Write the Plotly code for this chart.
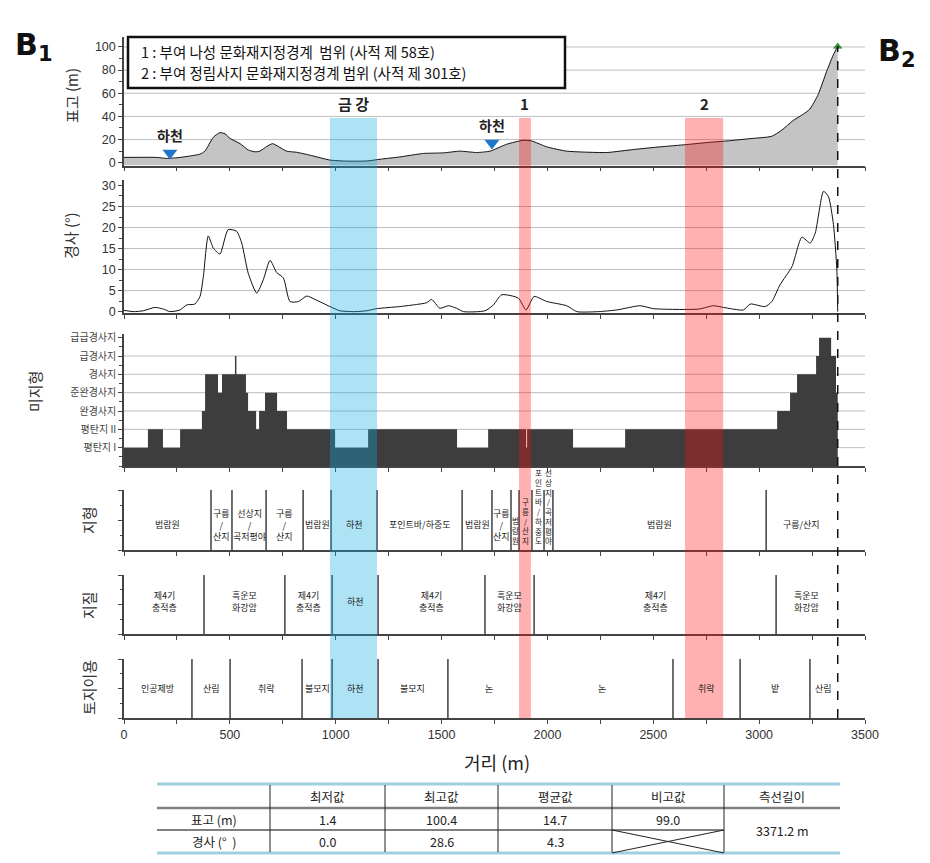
import plotly.graph_objects as go

W, H = 930, 863


def px(x):
    return x / W


def py(y):
    return 1 - y / H


KFONT = "Noto Sans CJK KR, Liberation Sans, sans-serif"
NFONT = "Liberation Sans, Arial, sans-serif"

# ---------------- data ----------------
dist_elev = [0, 154, 202, 265, 359, 382, 422, 453, 477, 501, 548, 587, 619, 642, 674, 702, 729, 768,
             816, 879, 973, 1052, 1146, 1209, 1303, 1414, 1508, 1587, 1666, 1729, 1808, 1886, 1926,
             1997, 2091, 2280, 2406, 2532, 2658, 2768, 2847, 2957, 3059, 3106, 3161, 3209, 3240,
             3279, 3319, 3350, 3371.2]
elevation = [4.6, 4.6, 3.7, 4.6, 7.4, 10, 22, 26, 25, 21, 16.5, 11, 9.4, 10, 14, 16.5, 14, 10,
             9, 6.5, 2.3, 1.4, 1.5, 3, 5, 8, 8.5, 10, 8.8, 10, 16, 19.4, 18.8,
             13.7, 10, 8.8, 11.4, 13.7, 15.7, 17.7, 18.8, 20.8, 22.8, 28, 36.5, 42, 46.4,
             59, 79, 93, 100.4]

dist_slope = [0, 44, 91, 146, 186, 217, 265, 296, 335, 359, 375, 398, 422, 453, 492, 532, 556, 587,
              627, 658, 690, 721, 753, 784, 824, 863, 902, 973, 1020, 1091, 1146, 1193, 1303, 1382,
              1429, 1453, 1492, 1532, 1571, 1603, 1705, 1745, 1784, 1863, 1899, 1937, 1997, 2091,
              2139, 2241, 2328, 2438, 2501, 2714, 2784, 2831, 2926, 2958, 3029, 3060, 3099, 3155,
              3202, 3241, 3265, 3304, 3327, 3351, 3367, 3371.2]
slope = [0.3, 0, 0.2, 1.0, 0.6, 0, 0.4, 1.6, 1.8, 3.6, 8.4, 18, 15.1, 13.7, 19.5, 19.1, 16.3, 9.1,
         4.4, 7.6, 12.2, 9.3, 8, 2.4, 2.4, 3.7, 2.9, 1.2, 0.2, 0, 0.2, 0.7, 1.2, 1.7,
         2.1, 2.9, 0.8, 1.4, 0.8, 0, 0.2, 1.6, 4.0, 3.2, 0.4, 3.6, 2.4, 1.4,
         0, 0, 0.4, 1.4, 0.7, 0.6, 1.4, 1.0, 0.4, 1.8, 1.2, 2.4, 6.4, 10.7,
         17.7, 16.3, 18.7, 28.6, 27.4, 20.7, 9.9, 0]

micro_names = ["평탄지 I", "평탄지 II", "완경사지", "준완경사지", "경사지", "급경사지", "급급경사지"]
micro_start = [0, 113, 184, 265, 368, 383, 444, 463, 524, 531, 576, 586, 624, 638, 666, 723, 770,
               997, 1153, 1573, 1720, 1899, 1904, 2121, 2367, 3085, 3146, 3179, 3269, 3283, 3340, 3363]
micro_level = [1, 2, 1, 2, 3, 5, 4, 5, 6, 5, 4, 3, 2, 3, 4, 3, 2,
               1, 2, 1, 2, 1, 2, 1, 2, 3, 4, 5, 6, 7, 6, 4]
micro_end = 3371.2

landform_bounds = [0, 411, 510, 671, 846, 978, 1195, 1597, 1738, 1828, 1866, 1927, 1984, 2026, 3033, 3371.2]
landform_labels = ["범람원", "구릉/산지", "선상지/곡저평야", "구릉/산지", "범람원", "하천", "포인트바/하중도",
                   "범람원", "구릉/산지", "범람원", "구릉/산지", "포인트바/하중도", "선상지/곡저평야",
                   "범람원", "구릉/산지"]
landform_mode = ["h", "s", "s", "s", "h", "h", "h", "h", "s", "v", "v", "v", "v", "h", "h"]

geology_bounds = [0, 378, 760, 983, 1200, 1705, 1937, 3080, 3371.2]
geology_labels = ["제4기 충적층", "흑운모 화강암", "제4기 충적층", "하천", "제4기 충적층",
                  "흑운모 화강암", "제4기 충적층", "흑운모 화강암"]

landuse_bounds = [0, 321, 501, 841, 983, 1200, 1530, 1922, 2593, 2910, 3240, 3371.2]
landuse_labels = ["인공제방", "산림", "취락", "불모지", "하천", "불모지", "논", "논", "취락", "밭", "산림"]
landuse_hidden = [1922]

band_labels = ["금 강", "1", "2"]
band_start = [973, 1866, 2650]
band_end = [1195, 1922, 2830]
band_colors = ["rgba(14,172,225,0.34)", "rgba(255,15,15,0.33)", "rgba(255,15,15,0.33)"]

river_dist = [217, 1738]
river_elev = [8.4, 17]
end_dist = 3371.2
end_elev = 100.4

legend_lines = ["1 : 부여 나성 문화재지정경계  범위 (사적 제 58호)",
                "2 : 부여 정림사지 문화재지정경계 범위 (사적 제 301호)"]

table_header = ["", "최저값", "최고값", "평균값", "비고값", "측선길이"]
table_rows = ["표고 (m)", "경사 (°  )"]
table_min = ["1.4", "0.0"]
table_max = ["100.4", "28.6"]
table_mean = ["14.7", "4.3"]
table_relief = ["99.0", None]
table_length = "3371.2 m"

x_ticks = [0, 500, 1000, 1500, 2000, 2500, 3000, 3500]
elev_grid = [20, 40, 60, 80, 100]
slope_grid = [5, 10, 15, 20, 25]
micro_grid = [1, 2, 3, 4, 5, 6]

# ---------------- layout geometry ----------------
XDOM = [px(124), px(865)]
doms = {
    1: [py(165.5), py(37)],
    2: [py(313.3), py(180)],
    3: [py(466), py(334)],
    4: [py(550), py(490)],
    5: [py(634), py(575)],
    6: [py(718), py(659)],
}
AX = "#444"

fig = go.Figure()

base = -2.4
fig.add_trace(go.Scatter(x=dist_elev, y=[base] * len(dist_elev), mode="lines",
                         line=dict(width=0), xaxis="x", yaxis="y", hoverinfo="skip"))
fig.add_trace(go.Scatter(x=dist_elev, y=elevation, mode="lines", fill="tonexty",
                         fillcolor="#c4c4c4", line=dict(color="#111", width=1, shape="spline", smoothing=0.5),
                         xaxis="x", yaxis="y"))
fig.add_trace(go.Scatter(x=river_dist, y=river_elev, mode="markers",
                         marker=dict(symbol="triangle-down", size=13, color="#1f77c9"),
                         xaxis="x", yaxis="y"))
fig.add_trace(go.Scatter(x=[end_dist], y=[end_elev], mode="markers",
                         marker=dict(symbol="triangle-up", size=7, color="#2ca02c",
                                     line=dict(color="#145214", width=0.5)),
                         xaxis="x", yaxis="y"))

fig.add_trace(go.Scatter(x=dist_slope, y=slope, mode="lines",
                         line=dict(color="#111", width=1, shape="spline", smoothing=0.6),
                         xaxis="x2", yaxis="y2"))

fig.add_trace(go.Scatter(x=micro_start + [micro_end], y=micro_level + [micro_level[-1]],
                         mode="lines", line=dict(width=0, shape="hv"), fill="tozeroy",
                         fillcolor="#3d3d3d", xaxis="x3", yaxis="y3"))

layout = dict(
    width=W, height=H, autosize=False, margin=dict(l=0, r=0, t=0, b=0, pad=0, autoexpand=False),
    paper_bgcolor="white", plot_bgcolor="rgba(0,0,0,0)", showlegend=False,
    font=dict(family=KFONT, color="#333"),
)

for i in range(1, 7):
    xa = "xaxis" if i == 1 else f"xaxis{i}"
    ya = "yaxis" if i == 1 else f"yaxis{i}"
    layout[xa] = dict(domain=XDOM, anchor="y" if i == 1 else f"y{i}", range=[0, 3500],
                      automargin=False,
                      tickvals=x_ticks, showticklabels=(i == 6), ticks="outside", ticklen=4,
                      tickcolor=AX, showline=True, linecolor=AX, linewidth=1.5, showgrid=False,
                      zeroline=False, minor=dict(dtick=250, ticks="outside", ticklen=4, tickcolor=AX),
                      tickfont=dict(family=NFONT, size=12.5, color="#333"))
    if i > 1:
        layout[xa]["matches"] = "x"
    layout[ya] = dict(domain=doms[i], anchor="x" if i == 1 else f"x{i}", showline=True,
                      automargin=False,
                      linecolor=AX, linewidth=1.5, ticks="outside", ticklen=4, tickcolor=AX,
                      showgrid=False, zeroline=False, tickfont=dict(family=NFONT, size=12.5, color="#333"))

layout["yaxis"].update(range=[base, 108.6], tickvals=[0, 20, 40, 60, 80, 100],
                       minor=dict(dtick=10, ticks="outside", ticklen=3, tickcolor=AX))
layout["yaxis2"].update(range=[-0.4, 31.3], tickvals=[0, 5, 10, 15, 20, 25, 30],
                        minor=dict(dtick=2.5, ticks="outside", ticklen=3, tickcolor=AX))
layout["yaxis3"].update(range=[0, 7.2], tickvals=list(range(1, 8)), ticktext=micro_names,
                        tickfont=dict(family=KFONT, size=10, color="#444"),
                        minor=dict(dtick=0.5, ticks="outside", ticklen=3, tickcolor=AX))
for i in (4, 5, 6):
    layout[f"yaxis{i}"].update(range=[0, 2], tickvals=[0, 1, 2], showticklabels=False,
                               minor=dict(dtick=0.5, ticks="outside", ticklen=2.5, tickcolor=AX))

shapes = []
annotations = []


def ann(**kw):
    kw.setdefault("showarrow", False)
    kw.setdefault("xanchor", "center")
    kw.setdefault("yanchor", "middle")
    annotations.append(kw)


for yax, vals in (("y", elev_grid), ("y2", slope_grid), ("y3", micro_grid)):
    for v in vals:
        shapes.append(dict(type="line", xref="x", yref=yax, x0=0, x1=3500, y0=v, y1=v,
                           line=dict(color="#bdbdbd", width=1), layer="below"))


def seg_centers(b):
    return [(b[k] + b[k + 1]) / 2 for k in range(len(b) - 1)]


def add_seps(bounds, xr, yr, hidden=()):
    for b in bounds[1:-1]:
        if b in hidden:
            continue
        shapes.append(dict(type="line", xref=xr, yref=yr, x0=b, x1=b, y0=0, y1=2,
                           line=dict(color="#222", width=1.3), layer="above"))


add_seps(landform_bounds, "x4", "y4")
add_seps(geology_bounds, "x5", "y5")
add_seps(landuse_bounds, "x6", "y6", landuse_hidden)

for s, e, c in zip(band_start, band_end, band_colors):
    shapes.append(dict(type="rect", xref="x", yref="paper", x0=s, x1=e, y0=py(718), y1=py(118),
                       fillcolor=c, line=dict(width=0), layer="above"))

shapes.append(dict(type="line", xref="x", yref="paper", x0=end_dist, x1=end_dist, y0=py(718), y1=py(46),
                   line=dict(color="#111", width=1.5, dash="dash"), layer="above"))

shapes.append(dict(type="rect", xref="paper", yref="paper", x0=px(128), x1=px(565), y0=py(88), y1=py(37),
                   fillcolor="white", line=dict(color="#111", width=2.5), layer="above"))
for k, t in enumerate(legend_lines):
    ann(xref="paper", yref="paper", x=px(139), y=py(51.5 + 20.5 * k), text=t, xanchor="left",
        font=dict(family=KFONT, size=14.5, color="#111"))

for s, e, t in zip(band_start, band_end, band_labels):
    ann(xref="x", yref="paper", x=(s + e) / 2, y=py(104), text=f"<b>{t}</b>",
        font=dict(family=KFONT, size=15, color="#222"))

for d, v in zip(river_dist, river_elev):
    ann(xref="x", yref="y", x=d, y=v, yshift=18, text="<b>하천</b>",
        font=dict(family=KFONT, size=14, color="#222"))

for c, t, m in zip(seg_centers(landform_bounds), landform_labels, landform_mode):
    if m == "v":
        ann(xref="x4", yref="y4", x=c, y=0.07, yanchor="bottom", text="<br>".join(list(t)),
            font=dict(family=KFONT, size=7.5, color="#222"))
    else:
        txt = t.replace("/", "<br>/<br>") if m == "s" else t
        ann(xref="x4", yref="y4", x=c, y=0.85, text=txt, font=dict(family=KFONT, size=9, color="#222"))

for c, t in zip(seg_centers(geology_bounds), geology_labels):
    ann(xref="x5", yref="y5", x=c, y=1.1, text=t.replace(" ", "<br>"),
        font=dict(family=KFONT, size=9, color="#222"))

for c, t in zip(seg_centers(landuse_bounds), landuse_labels):
    ann(xref="x6", yref="y6", x=c, y=1.0, text=t, font=dict(family=KFONT, size=9, color="#222"))

for t, x, y in (("표고 (m)", 72, 96), ("경사 (°)", 70, 236), ("미지형", 35, 392),
                ("지형", 88, 520), ("지질", 88, 605), ("토지이용", 88, 688)):
    ann(xref="paper", yref="paper", x=px(x), y=py(y), text=t, textangle=-90,
        font=dict(family=KFONT, size=15, color="#333"))
ann(xref="paper", yref="paper", x=px(497), y=py(762), text="거리 (m)",
    font=dict(family=KFONT, size=18, color="#222"))

ann(xref="paper", yref="paper", x=px(34), y=py(47), text="<b>B<sub>1</sub></b>",
    font=dict(family="DejaVu Sans, sans-serif", size=30, color="#111"))
ann(xref="paper", yref="paper", x=px(897), y=py(52), text="<b>B<sub>2</sub></b>",
    font=dict(family="DejaVu Sans, sans-serif", size=30, color="#111"))

cols = [157, 270, 385, 498, 612, 724, 840]
r_top, r_h, r_1, r_bot = 784, 808, 830, 853
shapes.append(dict(type="line", xref="paper", yref="paper", x0=px(cols[0]), x1=px(cols[-1]),
                   y0=py(r_top), y1=py(r_top), line=dict(color="#9fd0e0", width=3)))
shapes.append(dict(type="line", xref="paper", yref="paper", x0=px(cols[0]), x1=px(cols[-1]),
                   y0=py(r_bot), y1=py(r_bot), line=dict(color="#9fd0e0", width=3)))
shapes.append(dict(type="line", xref="paper", yref="paper", x0=px(cols[0]), x1=px(cols[-1]),
                   y0=py(r_h), y1=py(r_h), line=dict(color="#808080", width=2.5)))
shapes.append(dict(type="line", xref="paper", yref="paper", x0=px(cols[0]), x1=px(cols[5]),
                   y0=py(r_1), y1=py(r_1), line=dict(color="#808080", width=2)))
for cx in cols[1:-1]:
    shapes.append(dict(type="line", xref="paper", yref="paper", x0=px(cx), x1=px(cx),
                       y0=py(r_top + 1), y1=py(r_bot - 1), line=dict(color="#222", width=1)))
shapes.append(dict(type="line", xref="paper", yref="paper", x0=px(cols[4]), x1=px(cols[5]),
                   y0=py(r_1), y1=py(r_bot), line=dict(color="#222", width=1)))
shapes.append(dict(type="line", xref="paper", yref="paper", x0=px(cols[4]), x1=px(cols[5]),
                   y0=py(r_bot), y1=py(r_1), line=dict(color="#222", width=1)))

centers = [(cols[k] + cols[k + 1]) / 2 for k in range(len(cols) - 1)]
tfont = dict(family=KFONT, size=12.5, color="#222")
for cx, t in zip(centers, table_header):
    if t:
        ann(xref="paper", yref="paper", x=px(cx), y=py(796), text=t, font=tfont)
row_y = [819, 841]
for k in range(2):
    vals = [table_rows[k], table_min[k], table_max[k], table_mean[k], table_relief[k]]
    for cx, t in zip(centers[:5], vals):
        if t is not None:
            ann(xref="paper", yref="paper", x=px(cx), y=py(row_y[k]), text=t, font=tfont)
ann(xref="paper", yref="paper", x=px(centers[5]), y=py(830), text=table_length, font=tfont)

layout["shapes"] = shapes
layout["annotations"] = annotations
fig.update_layout(**layout)
fig.write_html("out.html", config={"responsive": False},
               post_script="document.body.style.margin='0';document.body.style.overflow='hidden';"
                           "document.documentElement.style.overflow='hidden';")
